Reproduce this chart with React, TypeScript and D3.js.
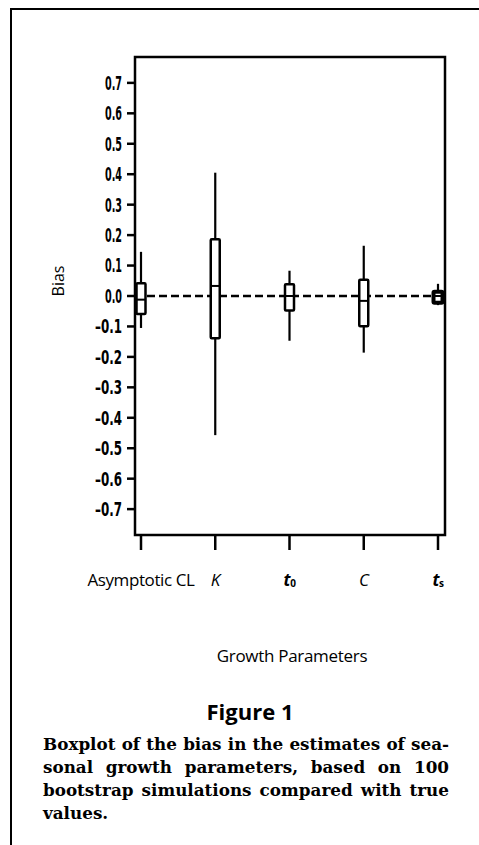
import React, { useEffect, useRef } from 'react';
import * as d3 from 'd3';

// boxplot summaries (bias)
const categories = ['Asymptotic CL', 'K', 't0', 'C', 'ts'];
const whiskerLow = [-0.105, -0.457, -0.147, -0.186, -0.03];
const q1 = [-0.059, -0.139, -0.048, -0.099, -0.022];
const medians = [-0.012, 0.033, 0.0, -0.016, 0.0];
const q3 = [0.042, 0.186, 0.039, 0.053, 0.014];
const whiskerHigh = [0.145, 0.405, 0.083, 0.165, 0.04];

const yTicks = [0.7, 0.6, 0.5, 0.4, 0.3, 0.2, 0.1, 0.0, -0.1, -0.2, -0.3, -0.4, -0.5, -0.6, -0.7];
const yTickLabels = ['0.7', '0.6', '0.5', '0.4', '0.3', '0.2', '0.1', '0.0', '–0.1', '–0.2', '–0.3', '–0.4', '–0.5', '–0.6', '–0.7'];

const captionLines = [
  'Boxplot of the bias in the estimates of sea-',
  'sonal growth parameters, based on 100',
  'bootstrap simulations compared with true',
  'values.'
];

const W = 479;
const H = 845;

const App = () => {
  const ref = useRef<SVGSVGElement>(null);

  useEffect(() => {
    const svg = d3.select(ref.current);
    svg.selectAll('*').remove();

    const plot = { left: 135, right: 445, top: 57, bottom: 535 };

    const x = d3.scalePoint<string>()
      .domain(categories)
      .range([plot.left + 6, plot.right - 7]);

    const y = d3.scaleLinear()
      .domain([-0.785, 0.785])
      .range([plot.bottom, plot.top]);

    // outer figure frame
    svg.append('path')
      .attr('d', `M11,${H} L11,9 L${W},9`)
      .attr('fill', 'none')
      .attr('stroke', '#000')
      .attr('stroke-width', 2);

    // plot frame
    svg.append('rect')
      .attr('x', plot.left)
      .attr('y', plot.top)
      .attr('width', plot.right - plot.left)
      .attr('height', plot.bottom - plot.top)
      .attr('fill', 'none')
      .attr('stroke', '#000')
      .attr('stroke-width', 2.5);

    // y axis ticks + labels
    const yAxis = svg.append('g');
    yAxis.selectAll('line')
      .data(yTicks)
      .enter().append('line')
      .attr('x1', plot.left - 8)
      .attr('x2', plot.left)
      .attr('y1', d => y(d))
      .attr('y2', d => y(d))
      .attr('stroke', '#000')
      .attr('stroke-width', 2.5);

    yAxis.selectAll('text')
      .data(yTicks)
      .enter().append('text')
      .attr('x', plot.left - 13)
      .attr('y', d => y(d))
      .attr('dy', '0.36em')
      .attr('text-anchor', 'end')
      .attr('font-family', '"Liberation Sans Narrow", "DejaVu Sans Condensed", sans-serif')
      .attr('font-weight', 'bold')
      .attr('font-size', 19)
      .attr('textLength', (d, i) => (yTickLabels[i].length > 3 ? 27 : 17))
      .attr('lengthAdjust', 'spacingAndGlyphs')
      .text((d, i) => yTickLabels[i]);

    // x axis ticks
    svg.append('g').selectAll('line')
      .data(categories)
      .enter().append('line')
      .attr('x1', d => x(d)!)
      .attr('x2', d => x(d)!)
      .attr('y1', plot.bottom)
      .attr('y2', plot.bottom + 15)
      .attr('stroke', '#000')
      .attr('stroke-width', 2.5);

    // x labels
    const labelFont = '"Open Sans", "Noto Sans", sans-serif';
    const xl = svg.append('g')
      .attr('font-family', labelFont)
      .attr('font-size', 17)
      .attr('letter-spacing', -0.4);

    categories.forEach(c => {
      const t = xl.append('text')
        .attr('x', x(c)!)
        .attr('y', 586)
        .attr('text-anchor', 'middle');
      if (c === 'Asymptotic CL') {
        t.text(c);
      } else if (c === 'K' || c === 'C') {
        t.attr('font-style', 'italic').text(c);
      } else {
        t.append('tspan').attr('font-style', 'italic').attr('font-weight', 'bold').text('t');
        t.append('tspan').attr('font-size', 10).attr('font-weight', 'bold').attr('dy', 1).text(c.slice(1));
      }
    });

    // dashed zero reference line
    svg.append('line')
      .attr('x1', plot.left)
      .attr('x2', x('ts')!)
      .attr('y1', y(0))
      .attr('y2', y(0))
      .attr('stroke', '#000')
      .attr('stroke-width', 2.5)
      .attr('stroke-dasharray', '8,4');

    // boxplots
    const boxW = 9;
    const g = svg.append('g');
    categories.forEach((c, i) => {
      const cx = x(c)!;
      g.append('line')
        .attr('x1', cx).attr('x2', cx)
        .attr('y1', y(whiskerHigh[i])).attr('y2', y(q3[i]))
        .attr('stroke', '#000').attr('stroke-width', 2.2);
      g.append('line')
        .attr('x1', cx).attr('x2', cx)
        .attr('y1', y(q1[i])).attr('y2', y(whiskerLow[i]))
        .attr('stroke', '#000').attr('stroke-width', 2.2);
      g.append('rect')
        .attr('x', cx - boxW / 2)
        .attr('y', y(q3[i]))
        .attr('width', boxW)
        .attr('height', y(q1[i]) - y(q3[i]))
        .attr('rx', 1)
        .attr('fill', '#fff')
        .attr('stroke', '#000')
        .attr('stroke-width', c === 'ts' ? 4 : 2.5);
      g.append('line')
        .attr('x1', cx - boxW / 2).attr('x2', cx + boxW / 2)
        .attr('y1', y(medians[i])).attr('y2', y(medians[i]))
        .attr('stroke', '#000').attr('stroke-width', 2);
    });

    // axis titles
    svg.append('text')
      .attr('transform', `translate(64, ${281}) rotate(-90)`)
      .attr('text-anchor', 'middle')
      .attr('font-family', labelFont)
      .attr('font-size', 16)
      .text('Bias');

    svg.append('text')
      .attr('x', 292)
      .attr('y', 662)
      .attr('text-anchor', 'middle')
      .attr('font-family', labelFont)
      .attr('font-size', 17)
      .attr('letter-spacing', -0.3)
      .text('Growth Parameters');

    svg.append('text')
      .attr('x', 250)
      .attr('y', 720)
      .attr('text-anchor', 'middle')
      .attr('font-family', labelFont)
      .attr('font-weight', 'bold')
      .attr('font-size', 22)
      .text('Figure 1');

    // caption, justified by stretching the word spacing
    const capW = 406;
    const cap = svg.append('g')
      .attr('font-family', '"DejaVu Serif", serif')
      .attr('font-weight', 'bold')
      .attr('font-size', 16.8);
    captionLines.forEach((line, i) => {
      const t = cap.append('text')
        .attr('x', 43)
        .attr('y', 750 + i * 23)
        .text(line);
      if (i === captionLines.length - 1) return;
      const node = t.node() as SVGTextElement;
      const natural = node.getComputedTextLength();
      const spaces = (line.match(/ /g) || []).length;
      if (natural < capW && spaces > 0) {
        t.attr('word-spacing', (capW - natural) / spaces);
      } else {
        t.attr('textLength', capW).attr('lengthAdjust', 'spacingAndGlyphs');
      }
    });
  }, []);

  return (
    <svg
      ref={ref}
      width={W}
      height={H}
      style={{ position: 'absolute', left: 0, top: 0, background: '#fff' }}
    />
  );
};

export default App;
